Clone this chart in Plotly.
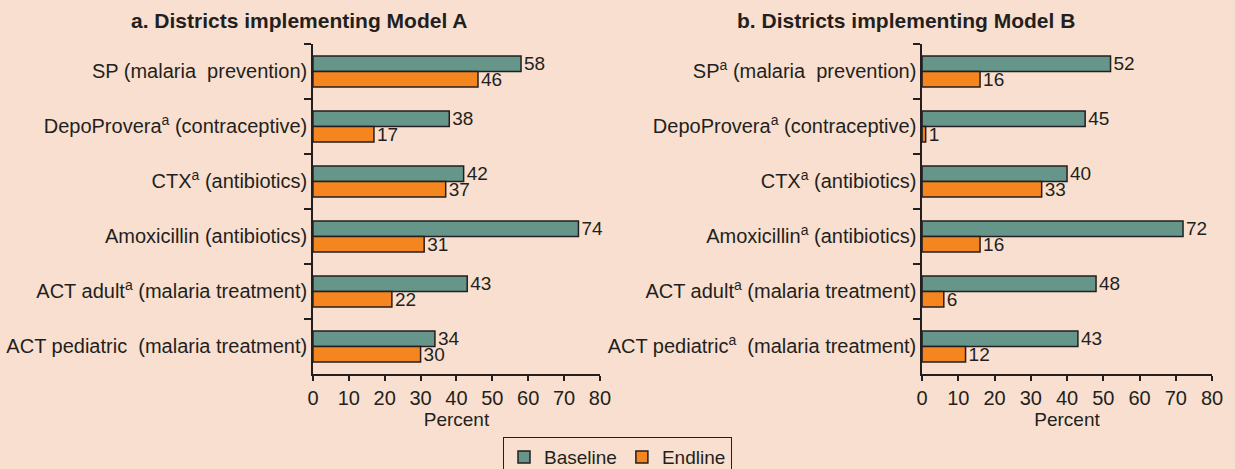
import plotly.graph_objects as go

# ---- data ----
categories_a = [
    "SP (malaria\u00a0 prevention)",
    "DepoProvera<sup>a</sup>\u00a0(contraceptive)",
    "CTX<sup>a</sup> (antibiotics)",
    "Amoxicillin (antibiotics)",
    "ACT adult<sup>a</sup> (malaria treatment)",
    "ACT pediatric\u00a0 (malaria treatment)",
]
categories_b = [
    "SP<sup>a</sup> (malaria\u00a0 prevention)",
    "DepoProvera<sup>a</sup>\u00a0(contraceptive)",
    "CTX<sup>a</sup> (antibiotics)",
    "Amoxicillin<sup>a</sup> (antibiotics)",
    "ACT adult<sup>a</sup> (malaria treatment)",
    "ACT pediatric<sup>a</sup>\u00a0 (malaria treatment)",
]
baseline_a = [58, 38, 42, 74, 43, 34]
endline_a = [46, 17, 37, 31, 22, 30]
baseline_b = [52, 45, 40, 72, 48, 43]
endline_b = [16, 1, 33, 16, 6, 12]
x_ticks = [0, 10, 20, 30, 40, 50, 60, 70, 80]
series_names = ["Baseline", "Endline"]
titles = ["a. Districts implementing Model A", "b. Districts implementing Model B"]

# ---- style ----
BG = "#F9DFCF"
GREEN = "#66968A"
ORANGE = "#F5861F"
DARK = "#231F20"
FONT = "Liberation Sans, Arial, sans-serif"
FS = 20

fig = go.Figure()

def add_bars(cats, base, end, xa, ya, show):
    for name, vals, col in ((series_names[0], base, GREEN), (series_names[1], end, ORANGE)):
        fig.add_trace(go.Bar(
            name=name, y=cats, x=vals, orientation="h",
            marker=dict(color=col, line=dict(color=DARK, width=1.5)),
            text=vals, texttemplate="%{x}", textposition="outside",
            textfont=dict(size=FS - 1, color=DARK, family=FONT),
            constraintext="none", cliponaxis=False,
            xaxis=xa, yaxis=ya, legendgroup=name, showlegend=show,
        ))

add_bars(categories_a, baseline_a, endline_a, "x", "y", True)
add_bars(categories_b, baseline_b, endline_b, "x2", "y2", False)

ydom = [0.2026, 0.9062]
xcommon = dict(range=[0, 80], tickvals=x_ticks, showline=True, linecolor=DARK, linewidth=1.5,
               ticks="outside", ticklen=5, tickcolor=DARK, tickwidth=1.5, showgrid=False,
               zeroline=False, tickfont=dict(size=FS, color=DARK, family=FONT),
               title=dict(text="Percent", font=dict(size=FS - 1, color=DARK, family=FONT), standoff=4),
               automargin=False, fixedrange=True)
ycommon = dict(type="category", autorange="reversed", tickson="boundaries", ticks="outside",
               ticklen=7, tickcolor=DARK, tickwidth=1.5, showline=True, linecolor=DARK, linewidth=1.5,
               showgrid=False, domain=ydom, tickfont=dict(size=FS, color=DARK, family=FONT),
               automargin=False, fixedrange=True)

fig.update_layout(
    width=1235, height=469,
    margin=dict(l=0, r=0, t=0, b=0, autoexpand=False),
    paper_bgcolor=BG, plot_bgcolor=BG,
    barmode="group", bargap=0.44, bargroupgap=0,
    font=dict(family=FONT, color=DARK, size=FS),
    xaxis=dict(domain=[0.2534, 0.4858], anchor="y", **xcommon),
    yaxis=dict(anchor="x", **ycommon),
    xaxis2=dict(domain=[0.7466, 0.9814], anchor="y2", **xcommon),
    yaxis2=dict(anchor="x2", **ycommon),
    legend=dict(orientation="h", x=0.5, xanchor="center", y=0.068, yanchor="top",
                bordercolor=DARK, borderwidth=1, bgcolor="rgba(0,0,0,0)",
                font=dict(size=FS - 1, color=DARK, family=FONT), itemwidth=30,
                traceorder="normal", tracegroupgap=0),
    annotations=[
        dict(text="<b>" + titles[0] + "</b>", x=0.242, y=0.957, xref="paper", yref="paper",
             xanchor="center", yanchor="middle", showarrow=False,
             font=dict(size=21, color=DARK, family=FONT)),
        dict(text="<b>" + titles[1] + "</b>", x=0.734, y=0.957, xref="paper", yref="paper",
             xanchor="center", yanchor="middle", showarrow=False,
             font=dict(size=21, color=DARK, family=FONT)),
    ],
)

fig.write_html("out.html", post_script="document.body.style.margin='0';",
               config={"displayModeBar": False})
